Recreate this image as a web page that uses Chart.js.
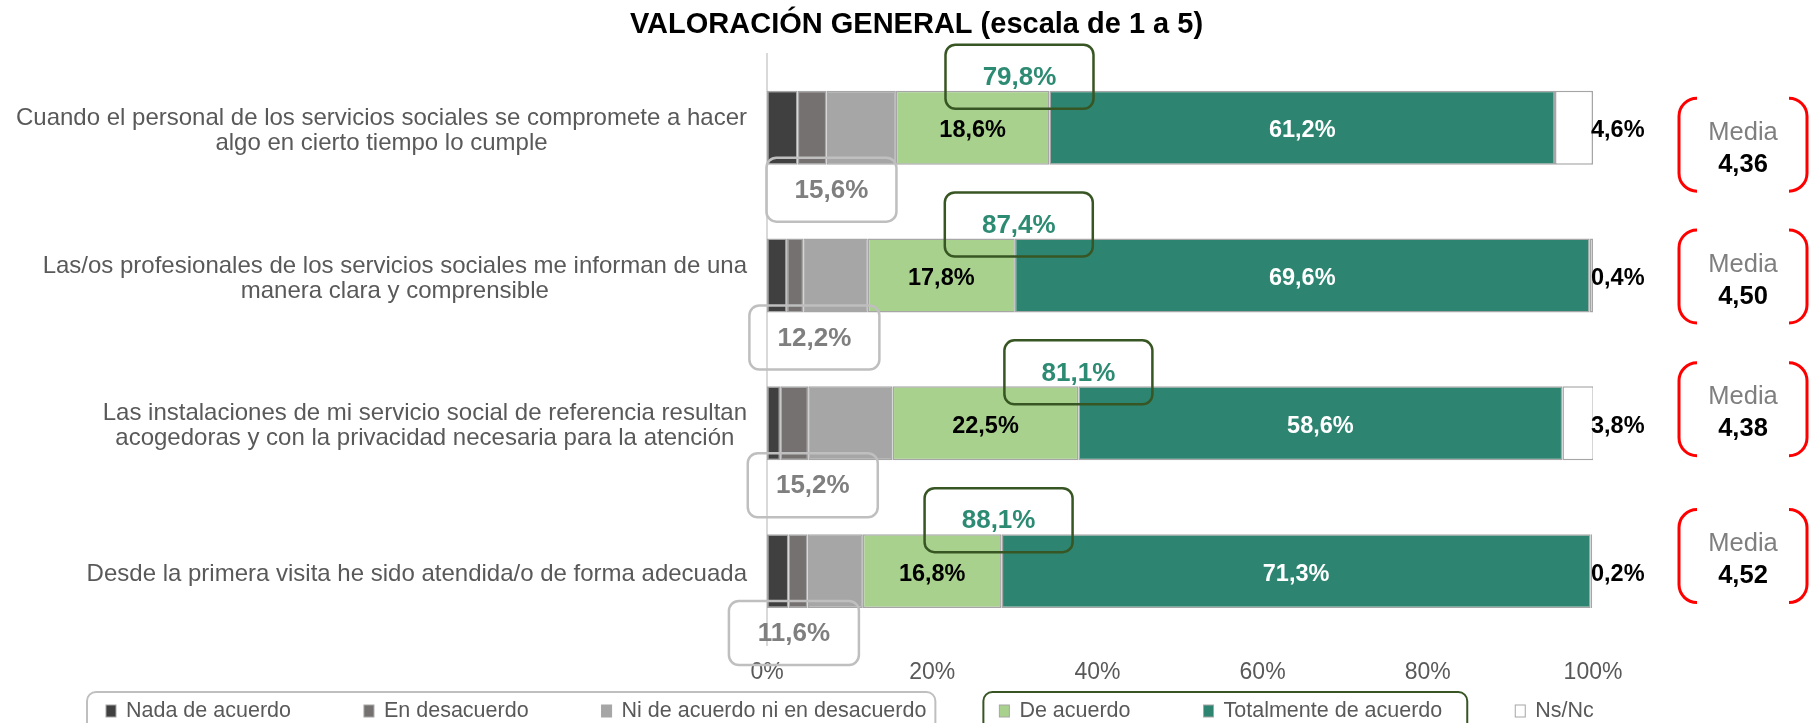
<!DOCTYPE html>
<html>
<head>
<meta charset="utf-8">
<script src="https://cdn.jsdelivr.net/npm/chart.js@4.4.1/dist/chart.umd.min.js"></script>
<style>
  html, body { margin: 0; padding: 0; background: #fff; overflow: hidden; }
</style>
</head>
<body>
<canvas id="chart" width="1813" height="723" style="display:block;width:1813px;height:723px"></canvas>
<script>
// data
const categories = [
    ['Cuando el personal de los servicios sociales se compromete a hacer', 'algo en cierto tiempo lo cumple'],
    ['Las/os profesionales de los servicios sociales me informan de una', 'manera clara y comprensible'],
    ['Las instalaciones de mi servicio social de referencia resultan', 'acogedoras y con la privacidad necesaria para la atención'],
    ['Desde la primera visita he sido atendida/o de forma adecuada']
];
const nadaDeAcuerdo = [3.7, 2.4, 1.6, 2.6];
const enDesacuerdo = [3.5, 2.0, 3.4, 2.3];
const niDeAcuerdoNiEnDesacuerdo = [8.4, 7.8, 10.2, 6.7];
const deAcuerdo = [18.6, 17.8, 22.5, 16.8];
const totalmenteDeAcuerdo = [61.2, 69.6, 58.6, 71.3];
const nsNc = [4.6, 0.4, 3.8, 0.2];
const medias = [4.36, 4.50, 4.38, 4.52];
const xTicks = [0, 20, 40, 60, 80, 100];

const FONT = "'Liberation Sans', Arial, sans-serif";
Chart.defaults.font.family = FONT;

const pct = v => v.toFixed(1).replace('.', ',') + '%'; // spanish decimal comma
const num = v => v.toFixed(2).replace('.', ',');

// the callout boxes in the original were placed by hand, these small shifts (px) follow them
const nudge = {
    agreeX: [-30, 4, 0, -3],
    disagreeX: [0, -3, -17, -21],
    mediaY: [17, 1, -14, -15]
};
const TY = 3; // 'middle' baseline sits a bit high for this font

// labels, boxes, media brackets and legend drawn on top of the bars
const overlay = {
    id: 'overlay',
    afterDatasetsDraw(chart) {
        const { ctx, chartArea, scales: { x, y } } = chart;
        ctx.save();
        ctx.textBaseline = 'middle';
        categories.forEach((lines, i) => {
            const yc = y.getPixelForValue(i);
            const deBar = chart.getDatasetMeta(3).data[i].getProps(['x', 'base', 'height'], true);
            const totBar = chart.getDatasetMeta(4).data[i].getProps(['x', 'base'], true);
            const half = deBar.height / 2;

            // values inside the bars
            ctx.font = 'bold 23.5px ' + FONT;
            ctx.textAlign = 'center';
            ctx.fillStyle = '#000';
            ctx.fillText(pct(deAcuerdo[i]), (deBar.x + deBar.base) / 2, yc + TY);
            ctx.fillStyle = '#fff';
            ctx.fillText(pct(totalmenteDeAcuerdo[i]), (totBar.x + totBar.base) / 2, yc + TY);
            ctx.fillStyle = '#000';
            ctx.textAlign = 'left';
            ctx.fillText(pct(nsNc[i]), x.getPixelForValue(100) - 2, yc + TY);

            // green box: total agreement
            const agree = deAcuerdo[i] + totalmenteDeAcuerdo[i];
            const gx = deBar.x + nudge.agreeX[i], gy = yc - half - 14;
            ctx.beginPath();
            ctx.roundRect(gx - 74, gy - 32, 148, 64, 10);
            ctx.strokeStyle = '#375623';
            ctx.lineWidth = 2.5;
            ctx.stroke();
            ctx.font = 'bold 26px ' + FONT;
            ctx.textAlign = 'center';
            ctx.fillStyle = '#2E8B73';
            ctx.fillText(pct(agree), gx, gy - 2 + TY);

            // grey box: total disagreement
            const disagree = nadaDeAcuerdo[i] + enDesacuerdo[i] + niDeAcuerdoNiEnDesacuerdo[i];
            const dx = x.getPixelForValue(disagree / 2) + nudge.disagreeX[i], dy = yc + half + 25;
            ctx.beginPath();
            ctx.roundRect(dx - 65, dy - 32, 130, 64, 10);
            ctx.strokeStyle = '#BFBFBF';
            ctx.stroke();
            ctx.fillStyle = '#7F7F7F';
            ctx.fillText(pct(disagree), dx, dy - 2 + TY);

            // category labels, block right aligned, lines centred inside it
            ctx.font = '24px ' + FONT;
            ctx.fillStyle = '#595959';
            const widths = lines.map(l => ctx.measureText(l).width);
            const cx = chartArea.left - 20 - Math.max(...widths) / 2;
            lines.forEach((l, j) => {
                ctx.fillText(l, cx, yc + TY + (j - (lines.length - 1) / 2) * 25);
            });

            // media bracket box
            const my = yc + nudge.mediaY[i];
            const mx = 1743, w = 128, h = 93, r = 18;
            const l = mx - w / 2, rt = mx + w / 2, t = my - h / 2, b = my + h / 2;
            ctx.strokeStyle = '#FF0000';
            ctx.lineWidth = 3;
            ctx.beginPath();
            ctx.moveTo(l + r, t);
            ctx.arcTo(l, t, l, t + r, r);
            ctx.lineTo(l, b - r);
            ctx.arcTo(l, b, l + r, b, r);
            ctx.moveTo(rt - r, t);
            ctx.arcTo(rt, t, rt, t + r, r);
            ctx.lineTo(rt, b - r);
            ctx.arcTo(rt, b, rt - r, b, r);
            ctx.stroke();
            ctx.textAlign = 'center';
            ctx.font = '25.5px ' + FONT;
            ctx.fillStyle = '#7F7F7F';
            ctx.fillText('Media', mx, my - 15 + TY);
            ctx.font = 'bold 25.5px ' + FONT;
            ctx.fillStyle = '#000';
            ctx.fillText(num(medias[i]), mx, my + 17 + TY);
        });

        // legend along the bottom
        ctx.font = '21.5px ' + FONT;
        ctx.textAlign = 'left';
        const ly = 711;
        let lx = 106;
        const spots = [];
        chart.data.datasets.forEach(ds => {
            ctx.fillStyle = ds.backgroundColor;
            ctx.fillRect(lx, ly - 6, 10, 12);
            ctx.strokeStyle = '#A6A6A6';
            ctx.lineWidth = 1;
            ctx.strokeRect(lx, ly - 6, 10, 12);
            ctx.fillStyle = '#595959';
            ctx.fillText(ds.label, lx + 20, ly);
            const end = lx + 20 + ctx.measureText(ds.label).width;
            spots.push({ start: lx, end: end });
            lx = end + 73;
        });
        const group = (a, bIdx, color, padL, padR) => {
            const left = spots[a].start - padL, right = spots[bIdx].end + padR;
            ctx.beginPath();
            ctx.roundRect(left, 692, right - left, 60, 9);
            ctx.strokeStyle = color;
            ctx.lineWidth = 2;
            ctx.stroke();
        };
        group(0, 2, '#BFBFBF', 19, 9);
        group(3, 4, '#375623', 16, 25);
        ctx.restore();
    }
};

new Chart(document.getElementById('chart'), {
    type: 'bar',
    data: {
        labels: categories,
        datasets: [
            { label: 'Nada de acuerdo', data: nadaDeAcuerdo, backgroundColor: '#404040' },
            { label: 'En desacuerdo', data: enDesacuerdo, backgroundColor: '#767171' },
            { label: 'Ni de acuerdo ni en desacuerdo', data: niDeAcuerdoNiEnDesacuerdo, backgroundColor: '#A6A6A6' },
            { label: 'De acuerdo', data: deAcuerdo, backgroundColor: '#A9D18E' },
            { label: 'Totalmente de acuerdo', data: totalmenteDeAcuerdo, backgroundColor: '#2D8571' },
            { label: 'Ns/Nc', data: nsNc, backgroundColor: '#FFFFFF' }
        ]
    },
    options: {
        indexAxis: 'y',
        responsive: false,
        animation: false,
        datasets: {
            bar: {
                borderColor: '#A6A6A6',
                borderWidth: 1.5,
                borderSkipped: false,
                categoryPercentage: 1,
                barPercentage: 0.5
            }
        },
        layout: { padding: { top: 8, right: 0, bottom: 38, left: 20 } },
        scales: {
            x: {
                stacked: true,
                min: 0,
                max: 100,
                grid: { display: false },
                border: { display: false },
                afterBuildTicks: s => { s.ticks = xTicks.map(v => ({ value: v })); },
                afterFit: s => { s.height = 40; },
                ticks: {
                    callback: v => v + '%',
                    font: { size: 23 },
                    color: '#595959',
                    padding: 6
                }
            },
            y: {
                stacked: true,
                grid: { display: false },
                border: { color: '#D9D9D9', width: 2 },
                ticks: { display: false },
                afterFit: s => { s.width = 747; }
            },
            // empty axis that keeps room on the right for the media boxes
            yRight: {
                type: 'category',
                position: 'right',
                grid: { display: false },
                border: { display: false },
                ticks: { display: false },
                afterFit: s => { s.width = 220; }
            }
        },
        plugins: {
            title: {
                display: true,
                text: 'VALORACIÓN GENERAL (escala de 1 a 5)',
                color: '#000',
                font: { size: 29, weight: 'bold' },
                padding: { top: 0, bottom: 11 }
            },
            legend: { display: false },
            tooltip: { enabled: false }
        }
    },
    plugins: [overlay]
});
</script>
</body>
</html>
